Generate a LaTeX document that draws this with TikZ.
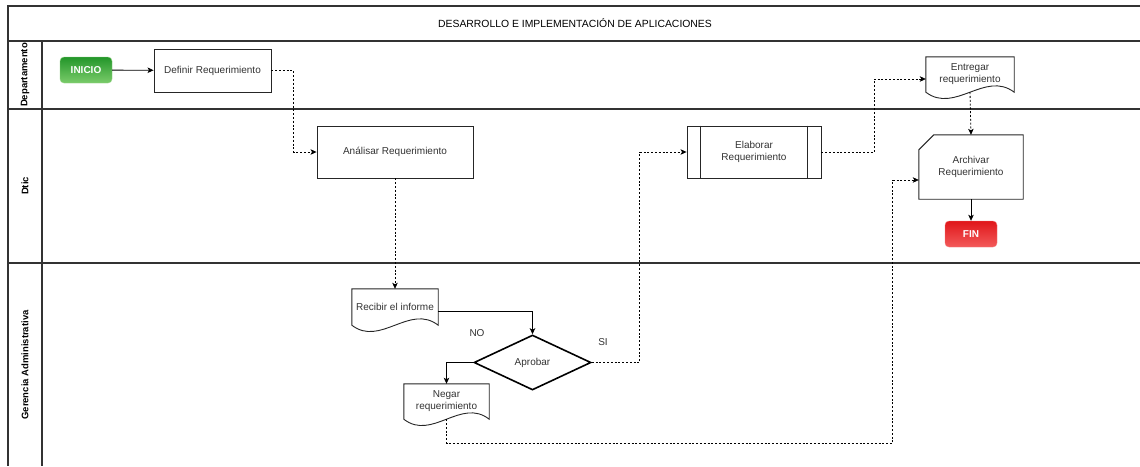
\documentclass[tikz,border=0pt]{standalone}
\usepackage{fontspec}
\setmainfont{Liberation Sans}
\usetikzlibrary{arrows.meta,shapes.geometric,calc}

\definecolor{frameline}{HTML}{333333}
\definecolor{inktext}{HTML}{333333}
\definecolor{gotop}{HTML}{23962A}
\definecolor{gobot}{HTML}{7ACB6A}
\definecolor{goedge}{HTML}{8FD27F}
\definecolor{stoptop}{HTML}{E0161A}
\definecolor{stopbot}{HTML}{F35A5A}
\definecolor{stopedge}{HTML}{F47B7B}

\tikzset{
  lane/.style={draw=frameline, line width=1.2pt},
  shapeline/.style={draw=black!85, line width=0.9pt},
  txt/.style={font=\fontsize{10}{12}\selectfont, text=inktext, align=center},
  procbox/.style={shapeline, txt, rectangle, inner sep=0pt},
  ghost/.style={txt, rectangle, inner sep=0pt, draw=none},
  terminal/.style={rectangle, rounded corners=4pt, inner sep=0pt,
    font=\fontsize{10}{12}\selectfont\bfseries, text=white,
    minimum width=52pt, minimum height=26pt},
  decision/.style={diamond, draw=black, line width=1.6pt, txt, inner sep=0pt},
  lanelabel/.style={rotate=90, font=\fontsize{9.5}{11}\selectfont\bfseries, text=black},
  flow/.style={draw=black, line width=0.8pt,
    -{Stealth[length=6pt,width=5.5pt,inset=1.5pt]}},
  dflow/.style={flow, dash pattern=on 2pt off 1.8pt},
  tag/.style={font=\fontsize{10}{12}\selectfont, text=inktext}
}

% document symbol: straight top and sides, wavy bottom edge
\newcommand\docwave[1]{%
  \draw[shapeline] (#1.south west) -- (#1.north west) -- (#1.north east) -- (#1.south east)
    .. controls ($(#1.south east)!0.33!(#1.south west)+(0,-22)$)
       and ($(#1.south west)!0.33!(#1.south east)+(0,22)$) .. (#1.south west) -- cycle;}

\begin{document}
\begin{tikzpicture}[x=1pt,y=-1pt]
\useasboundingbox (0,0) rectangle (1140,466);
\fill[white] (0,0) rectangle (1140,466);

% pool frame and lanes
\draw[lane] (1140,6) -- (8,6) -- (8,466);
\draw[lane] (8,41) -- (1140,41);
\draw[lane] (8,109) -- (1140,109);
\draw[lane] (8,263) -- (1140,263);
\draw[lane] (42,41) -- (42,466);

\node[font=\fontsize{10.4}{12}\selectfont, text=black] (titulo) at (575,23)
  {DESARROLLO E IMPLEMENTACIÓN DE APLICACIONES};

\node[lanelabel] (lDep) at (25,75) {Departamento};
\node[lanelabel] (lDtic) at (25,186) {Dtic};
\node[lanelabel] (lGer) at (25,365) {Gerencia Administrativa};

% process steps
\node[terminal, top color=gotop, bottom color=gobot, draw=goedge] (inicio) at (86,70) {INICIO};
\node[procbox, minimum width=117pt, minimum height=43pt] (definir) at (212.5,70.5) {Definir Requerimiento};
\node[procbox, minimum width=156pt, minimum height=52pt] (analisar) at (395,152) {Análisar Requerimiento};
\node[ghost, minimum width=86pt, minimum height=36pt] (recibir) at (395,307) {Recibir el informe};
\docwave{recibir}
\node[decision, minimum width=117pt, minimum height=55pt] (aprobar) at (532.5,362.5) {Aprobar};
\node[ghost, minimum width=85pt, minimum height=35pt] (negar) at (446.5,401.5) {Negar\\requerimiento};
\docwave{negar}
\node[procbox, minimum width=134pt, minimum height=52pt] (elaborar) at (754,152) {Elaborar\\Requerimiento};
\draw[shapeline] ([xshift=14pt]elaborar.north west) -- ([xshift=14pt]elaborar.south west);
\draw[shapeline] ([xshift=-14pt]elaborar.north east) -- ([xshift=-14pt]elaborar.south east);
\node[ghost, minimum width=88pt, minimum height=35pt] (entregar) at (970,74.5) {Entregar\\requerimiento};
\docwave{entregar}
\node[ghost, minimum width=104pt, minimum height=64pt] (archivar) at (971,167) {Archivar\\Requerimiento};
\draw[shapeline] ([xshift=15pt]archivar.north west) -- (archivar.north east) -- (archivar.south east)
  -- (archivar.south west) -- ([yshift=-15pt]archivar.north west) -- cycle;
\node[terminal, top color=stoptop, bottom color=stopbot, draw=stopedge] (fin) at (971,234) {FIN};

\node[tag] (lblNo) at (477,333) {NO};
\node[tag] (lblSi) at (603,342) {SI};

% connectors
\draw[flow] (inicio) -- (definir);
\draw[dflow] (definir.east) -- ++(22,0) |- (analisar.west);
\draw[dflow] (analisar.south) -- (recibir.north);
\draw[flow] ([yshift=-4pt]recibir.east) -| (aprobar.north);
\draw[flow] (aprobar.west) -| (negar.north);
\draw[dflow] (aprobar.east) -- ++(48,0) |- (elaborar.west);
\draw[dflow] (elaborar.east) -- ++(53,0) |- ([yshift=-4.5pt]entregar.west);
\draw[dflow] (entregar.south) -- (archivar.north);
\draw[flow] (archivar.south) -- (fin.north);
\draw[dflow] (negar.south) -- ([yshift=-24pt]negar.south) -| ([xshift=-26pt,yshift=-13pt]archivar.west) -- ([yshift=-13pt]archivar.west);
\end{tikzpicture}
\end{document}
